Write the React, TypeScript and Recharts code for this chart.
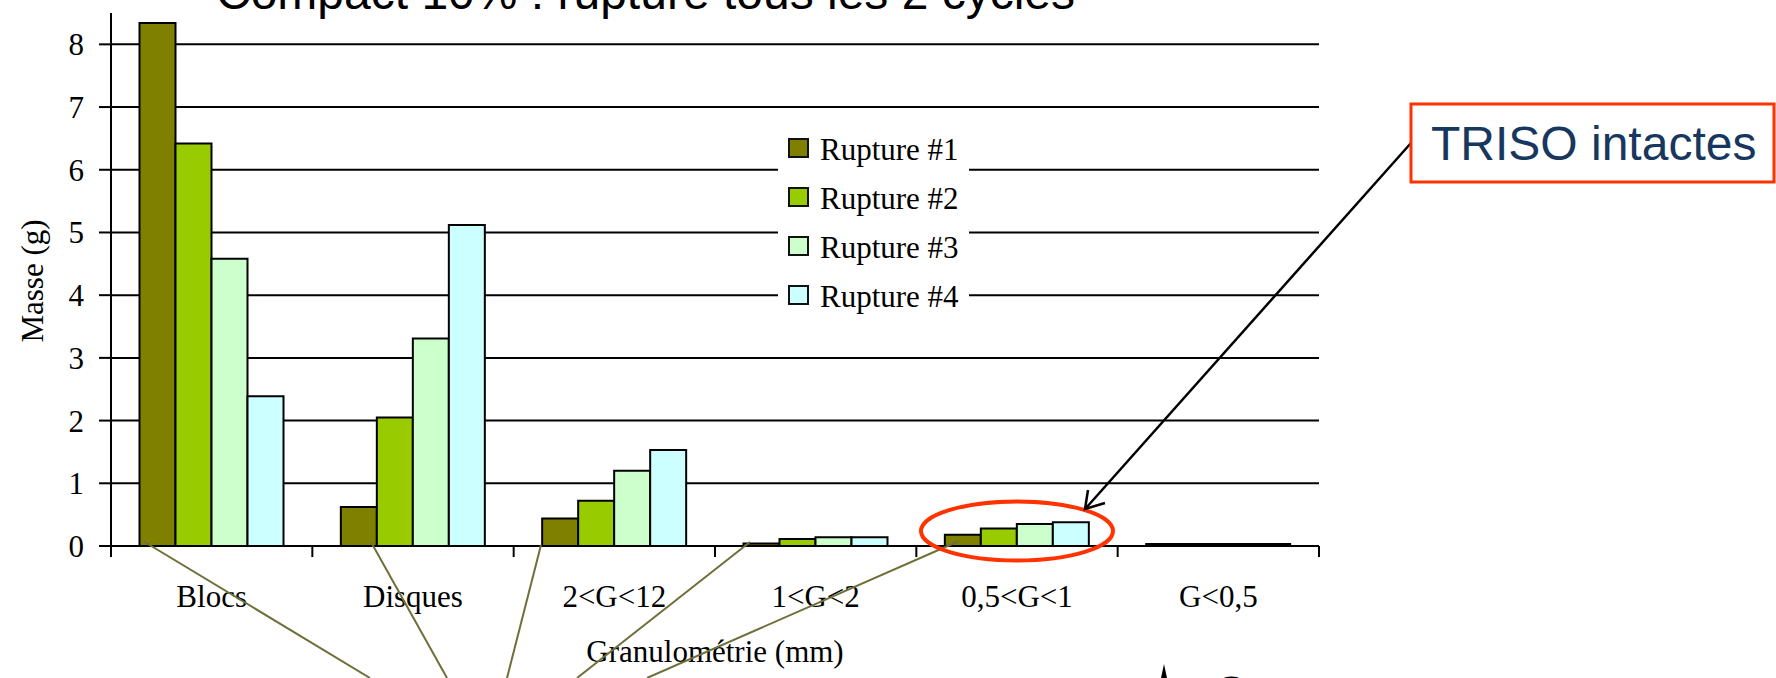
import { BarChart, Bar, XAxis, YAxis, CartesianGrid, Legend } from 'recharts'

const CATEGORIES = ['Blocs', 'Disques', '2<G<12', '1<G<2', '0,5<G<1', 'G<0,5']
const RUPTURE_1 = [8.34, 0.62, 0.44, 0.04, 0.18, 0.03]
const RUPTURE_2 = [6.42, 2.05, 0.72, 0.11, 0.28, 0.03]
const RUPTURE_3 = [4.58, 3.31, 1.2, 0.14, 0.35, 0.03]
const RUPTURE_4 = [2.39, 5.12, 1.53, 0.14, 0.38, 0.03]
const SERIES_NAMES = ['Rupture #1', 'Rupture #2', 'Rupture #3', 'Rupture #4']
const Y_TICKS = [0, 1, 2, 3, 4, 5, 6, 7, 8]
const Y_MAX = 8.5

const COLORS = ['#808000', '#99CC00', '#CCFFCC', '#CCFFFF']

const SERIF = '"Liberation Serif", "Times New Roman", serif'
const SANS = '"Liberation Sans", Arial, sans-serif'

const chartData = CATEGORIES.map((name, i) => ({
  name,
  r1: RUPTURE_1[i],
  r2: RUPTURE_2[i],
  r3: RUPTURE_3[i],
  r4: RUPTURE_4[i]
}))

// category label at band centre, tick marks on the band boundaries (Excel style)
const CategoryTick = ({ x, y, payload, index }: any) => {
  const half = payload?.offset || 1208 / 12
  const last = index === CATEGORIES.length - 1
  return (
    <g>
      <line x1={x - half} y1={y} x2={x - half} y2={y + 11} stroke="#000" strokeWidth={2} />
      {last && <line x1={x + half} y1={y} x2={x + half} y2={y + 11} stroke="#000" strokeWidth={2} />}
      <text x={x} y={y + 61} textAnchor="middle" fontFamily={SERIF} fontSize={31} fill="#000">
        {payload.value}
      </text>
    </g>
  )
}

// gridlines only at the labelled ticks (no line at the top of the axis)
const gridRows = ({ offset }: any) =>
  Y_TICKS.map(t => offset.top + offset.height * (1 - t / Y_MAX))

const renderLegend = ({ payload }: any) => (
  <div style={{ paddingTop: 5, background: '#fff', height: '100%', boxSizing: 'border-box' }}>
    {(payload || []).map((entry: any, i: number) => (
      <div key={i} style={{ display: 'flex', alignItems: 'center', height: 49 }}>
        <span
          style={{
            display: 'inline-block',
            width: 21,
            height: 20,
            marginLeft: 10,
            marginRight: 11,
            boxSizing: 'border-box',
            border: '2px solid #111',
            background: entry.color
          }}
        />
        <span style={{ fontFamily: SERIF, fontSize: 31, color: '#000', lineHeight: '31px', paddingTop: 4 }}>
          {entry.value}
        </span>
      </div>
    ))}
  </div>
)

export default function App() {
  return (
    <div
      style={{
        position: 'absolute',
        left: 0,
        top: 0,
        width: 1776,
        height: 678,
        overflow: 'hidden',
        background: '#fff'
      }}
    >
      <BarChart
        width={1776}
        height={678}
        data={chartData}
        margin={{ top: 13, right: 457, bottom: 0, left: 0 }}
        barGap={0}
        barCategoryGap={28.5}
      >
        <CartesianGrid
          vertical={false}
          stroke="#000"
          strokeWidth={2}
          horizontalCoordinatesGenerator={gridRows}
        />
        <XAxis
          dataKey="name"
          height={132}
          interval={0}
          tickLine={false}
          tickSize={0}
          tickMargin={0}
          axisLine={{ stroke: '#000', strokeWidth: 2 }}
          tick={<CategoryTick />}
          label={({ viewBox }: any) => (
            <text
              x={viewBox.x + viewBox.width / 2}
              y={viewBox.y + 116}
              textAnchor="middle"
              fontFamily={SERIF}
              fontSize={31}
              fill="#000"
            >
              Granulométrie (mm)
            </text>
          )}
        />
        <YAxis
          width={111}
          domain={[0, Y_MAX]}
          ticks={Y_TICKS}
          interval={0}
          tickSize={12}
          tickMargin={15}
          axisLine={{ stroke: '#000', strokeWidth: 2 }}
          tickLine={{ stroke: '#000', strokeWidth: 2 }}
          tick={{ fontFamily: SERIF, fontSize: 31, fill: '#000' }}
          label={() => (
            <text
              x={43}
              y={281}
              transform="rotate(-90, 43, 281)"
              textAnchor="middle"
              fontFamily={SERIF}
              fontSize={31}
              fill="#000"
            >
              Masse (g)
            </text>
          )}
        />
        <Legend
          layout="vertical"
          align="center"
          verticalAlign="middle"
          wrapperStyle={{ left: 778, top: 118, width: 191, height: 200 }}
          content={renderLegend}
        />
        {['r1', 'r2', 'r3', 'r4'].map((key, i) => (
          <Bar
            key={key}
            dataKey={key}
            name={SERIES_NAMES[i]}
            fill={COLORS[i]}
            stroke="#000"
            strokeWidth={2}
            isAnimationActive={false}
          />
        ))}
      </BarChart>

      {/* slide annotations drawn over the chart */}
      <svg
        width={1776}
        height={678}
        style={{ position: 'absolute', left: 0, top: 0, pointerEvents: 'none' }}
      >
        <text x={216} y={9} fontFamily={SANS} fontSize={48} fill="#000">
          Compact 10% : rupture tous les 2 cycles
        </text>

        <g stroke="#6F6F3A" strokeWidth={2}>
          <line x1={143} y1={541} x2={370} y2={678} />
          <line x1={371} y1={542} x2={447} y2={678} />
          <line x1={541} y1={545} x2={507} y2={678} />
          <line x1={750} y1={542} x2={577} y2={678} />
          <line x1={959} y1={541} x2={647} y2={678} />
        </g>

        <ellipse cx={1017} cy={531} rx={96} ry={29.5} fill="none" stroke="#FF3300" strokeWidth={4} />

        <g stroke="#000" strokeWidth={2.5} fill="none">
          <line x1={1411} y1={143} x2={1086} y2={508} />
          <polyline points="1088,490 1085,509 1105,503" />
        </g>

        <rect x={1411} y={104} width={363} height={78} fill="#fff" stroke="#FF3300" strokeWidth={3} />
        <text x={1431} y={160} fontFamily={SANS} fontSize={48} fill="#17375E">
          TRISO intactes
        </text>

        {/* callout partly outside the frame at the bottom */}
        <polygon points="1161,678 1164,664 1167,678" fill="#000" />
        <text x={1213} y={710} fontFamily={SANS} fontSize={48} fill="#000">
          Compact
        </text>
      </svg>
    </div>
  )
}
